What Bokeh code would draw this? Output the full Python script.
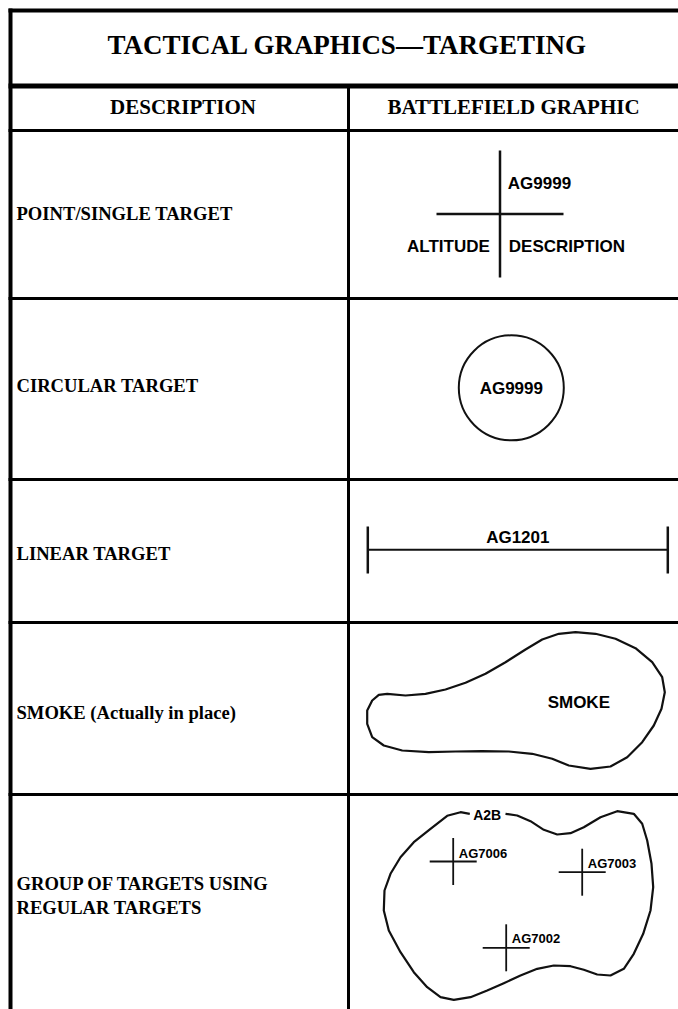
from bokeh.plotting import figure
from bokeh.models import Range1d
from bokeh.embed import file_html
from bokeh.resources import INLINE
from bokeh.core.properties import value

# ---------------- data ----------------
title_text = "TACTICAL GRAPHICS\u2014TARGETING"
header_texts = ["DESCRIPTION", "BATTLEFIELD GRAPHIC"]
header_x = [182.5, 513]

row_labels = ["POINT/SINGLE TARGET", "CIRCULAR TARGET", "LINEAR TARGET",
              "SMOKE (Actually in place)", "GROUP OF TARGETS USING", "REGULAR TARGETS"]
row_label_y = [212.7, 385, 553, 712, 883.3, 906.7]

# table rules (horizontal lines: y, width)
hrule_y = [10, 85.5, 130, 298, 479, 622, 794]
hrule_w = [4, 5, 3, 3, 3, 3, 3]

# point / single target
point_center = (499.5, 213.5)
point_half = 63.5
point_labels = ["AG9999", "ALTITUDE", "DESCRIPTION"]
point_label_x = [507.3, 489.3, 508.3]
point_label_y = [183.3, 246, 246]
point_label_align = ["left", "right", "left"]

# circular target
circle_center = (510.8, 387.3)
circle_radius = 52.5
circle_label = ("AG9999", 388.3)

# linear target
linear_x = [367.3, 667.3]
linear_y = 549.3
linear_tick = (526, 573)
linear_label = ("AG1201", 537.3)

# smoke outline
smoke_x = [386.7, 405, 425, 445, 465, 485, 505, 525, 541.7, 558.3, 575, 595, 615, 635,
           651.7, 661.7, 664.3, 661, 653.3, 641.7, 626.7, 610, 590, 568.3, 551.7, 531.7,
           508.3, 481.7, 455, 428.3, 401.7, 383.3, 371.7, 366.7, 366.7, 371.7, 378.3]
smoke_y = [693.3, 695, 693.3, 689, 682.3, 673.3, 661.7, 649, 639, 633.3, 631.7, 633.3, 638.3,
           647.7, 661.7, 676.7, 691.7, 708.3, 725, 741.7, 756.7, 766, 768.3, 765, 758.3,
           753.3, 751, 750.7, 751, 751.7, 750, 745, 736.7, 723.3, 710, 700, 694.3]
smoke_label = ("SMOKE", 578.3, 702.3)

# group of targets outline (open at label A2B)
group_x = [505, 516.7, 530, 543.3, 556.7, 570, 583.3, 600, 616.7, 633.3, 641.7, 646.7, 651,
           652.7, 650, 642.7, 633.3, 623.3, 610, 596.7, 583.3, 570, 553.3, 536.7, 520, 503.3,
           486.7, 470, 453.3, 440, 426.7, 413.3, 400, 388.3, 383.3, 384, 390, 400, 413.3, 430,
           446.7, 460, 469.3]
group_y = [813.3, 815, 820.7, 829.3, 834, 832.7, 826.7, 816.7, 810.7, 813.3, 823.3, 840, 863.3,
           886.7, 910, 933.3, 953.3, 968.3, 975, 974, 969.3, 965.7, 965, 968.3, 975, 982.7,
           990, 996.7, 999.3, 996.7, 986.7, 971.7, 951.7, 930, 910, 890, 873.3, 856.7, 841.7,
           828.3, 815.3, 811.7, 813.3]
group_name = ("A2B", 486.7, 814)
group_targets = ["AG7006", "AG7003", "AG7002"]
group_cx = [452.7, 581.7, 505.7]
group_cy = [861, 871.7, 947.3]
group_half = 23.5
group_label_x = [458.3, 587.3, 511.3]
group_label_y = [853.3, 862.7, 938.3]

# ---------------- figure ----------------
W, H = 678, 1009
p = figure(width=W, height=H, output_backend="svg", toolbar_location=None,
           x_range=Range1d(0, W), y_range=Range1d(H, 0),
           min_border=0, outline_line_color=None)
p.axis.visible = False
p.grid.visible = False
p.background_fill_color = "white"
p.border_fill_color = "white"

SERIF = value("Liberation Serif")
SANS = value("Liberation Sans")
INK = "#111111"

# table rules
for yy, ww in zip(hrule_y, hrule_w):
    p.line([8, W], [yy, yy], line_color="black", line_width=ww)
p.line([10, 10], [8, H], line_color="black", line_width=4)
p.line([348, 348], [85, H], line_color="black", line_width=3)

# title & headers
p.text(x=[347], y=[44], text=[title_text], text_font=SERIF, text_font_style="bold",
       text_font_size="27px", text_align="center", text_baseline="alphabetic", text_color="black")
p.text(x=header_x, y=[106.7, 106.7], text=header_texts, text_font=SERIF, text_font_style="bold",
       text_font_size="21px", text_align="center", text_baseline="alphabetic", text_color="black")

# row labels
p.text(x=[16] * len(row_labels), y=row_label_y, text=row_labels, text_font=SERIF,
       text_font_style="bold", text_font_size="18.6px", text_align="left",
       text_baseline="alphabetic", text_color="black")

# point target
cx, cy = point_center
p.line([cx, cx], [cy - point_half, cy + point_half], line_color=INK, line_width=2.5)
p.line([cx - point_half, cx + point_half], [cy, cy], line_color=INK, line_width=2.5)
for t, xx, yy, al in zip(point_labels, point_label_x, point_label_y, point_label_align):
    p.text(x=[xx], y=[yy], text=[t], text_font=SANS, text_font_style="bold",
           text_font_size="17px", text_align=al, text_baseline="alphabetic", text_color="black")

# circular target
p.circle(x=[circle_center[0]], y=[circle_center[1]], radius=circle_radius,
         fill_color=None, line_color=INK, line_width=2)
p.text(x=[circle_center[0]], y=[circle_label[1]], text=[circle_label[0]], text_font=SANS,
       text_font_style="bold", text_font_size="17px", text_align="center",
       text_baseline="alphabetic", text_color="black")

# linear target
p.line(linear_x, [linear_y, linear_y], line_color=INK, line_width=2)
for xx in linear_x:
    p.line([xx, xx], list(linear_tick), line_color=INK, line_width=2.5)
p.text(x=[(linear_x[0] + linear_x[1]) / 2], y=[linear_label[1]], text=[linear_label[0]],
       text_font=SANS, text_font_style="bold", text_font_size="17px", text_align="center",
       text_baseline="alphabetic", text_color="black")

# smoke
p.patch(smoke_x, smoke_y, fill_color=None, line_color=INK, line_width=2.2, line_join="round")
p.text(x=[smoke_label[1]], y=[smoke_label[2]], text=[smoke_label[0]], text_font=SANS,
       text_font_style="bold", text_font_size="17px", text_align="center",
       text_baseline="alphabetic", text_color="black")

# group of targets
p.line(group_x, group_y, line_color=INK, line_width=2.2, line_join="round")
p.text(x=[group_name[1]], y=[group_name[2]], text=[group_name[0]], text_font=SANS,
       text_font_style="bold", text_font_size="14px", text_align="center",
       text_baseline="alphabetic", text_color="black")
for gx, gy in zip(group_cx, group_cy):
    p.line([gx, gx], [gy - group_half, gy + group_half], line_color=INK, line_width=1.8)
    p.line([gx - group_half, gx + group_half], [gy, gy], line_color=INK, line_width=1.8)
p.text(x=group_label_x, y=group_label_y, text=group_targets, text_font=SANS,
       text_font_style="bold", text_font_size="13px", text_align="left",
       text_baseline="alphabetic", text_color="black")

open("out.html", "w").write(file_html(p, INLINE))
